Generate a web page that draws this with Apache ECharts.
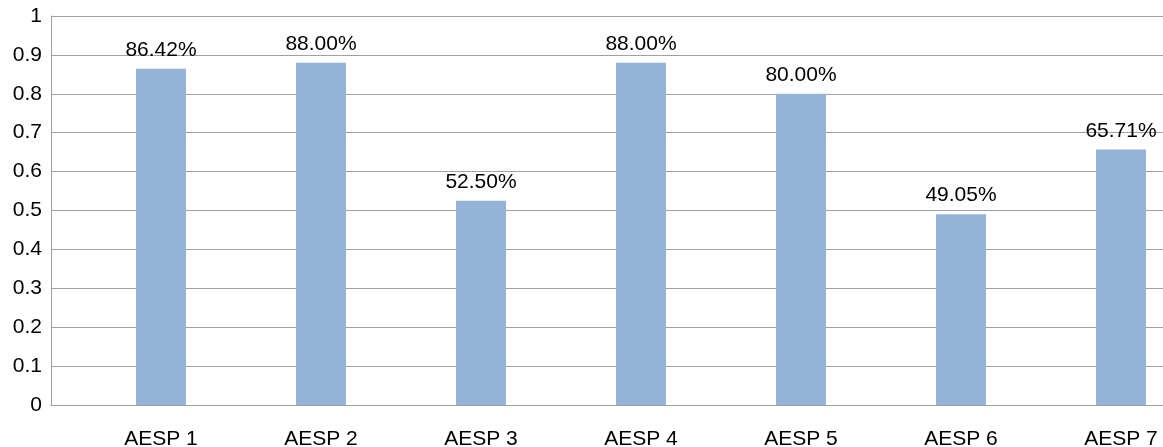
<!DOCTYPE html>
<html>
<head>
<meta charset="utf-8">
<script src="https://cdn.jsdelivr.net/npm/echarts@6/dist/echarts.min.js"></script>
<style>html,body{margin:0;padding:0;background:#fff;}#c{width:1163px;height:447px;}</style>
</head>
<body>
<div id="c"></div>
<script>
const categories = ['AESP 1','AESP 2','AESP 3','AESP 4','AESP 5','AESP 6','AESP 7'];
const values = [0.8642, 0.88, 0.525, 0.88, 0.80, 0.4905, 0.6571];
const yTicks = { min: 0, max: 1, interval: 0.1 };

const font = '"Liberation Sans", Arial, sans-serif';
const chart = echarts.init(document.getElementById('c'));
chart.setOption({
  animation: false,
  backgroundColor: '#fff',
  grid: [
    { left: 51, right: 0, top: 16, bottom: 42, containLabel: false, outerBoundsMode: 'none' },
    { left: 81, width: 1120, top: 16, bottom: 42, containLabel: false, outerBoundsMode: 'none' }
  ],
  xAxis: [
    { type: 'category', gridIndex: 0, data: categories,
      axisLine: { show: true, lineStyle: { color: '#a0a0a0', width: 1 } },
      axisTick: { show: false }, axisLabel: { show: false }, splitLine: { show: false } },
    { type: 'category', gridIndex: 1, data: categories,
      axisLine: { show: false }, axisTick: { show: false },
      axisLabel: { color: '#000', fontSize: 21, fontFamily: font, margin: 24, interval: 0 } }
  ],
  yAxis: [
    { type: 'value', gridIndex: 0, min: yTicks.min, max: yTicks.max, interval: yTicks.interval,
      axisLine: { show: true, lineStyle: { color: '#a0a0a0', width: 1 } },
      axisTick: { show: false },
      axisLabel: { color: '#000', fontSize: 21, fontFamily: font, margin: 9,
        formatter: v => String(Math.round(v * 10) / 10) },
      splitLine: { show: true, lineStyle: { color: '#a0a0a0', width: 1 } } },
    { type: 'value', gridIndex: 1, min: yTicks.min, max: yTicks.max, interval: yTicks.interval, show: false }
  ],
  series: [{
    type: 'bar', xAxisIndex: 1, yAxisIndex: 1, data: values, barWidth: 50,
    itemStyle: { color: '#95b3d7' },
    label: { show: true, position: 'top', distance: 8, color: '#000', fontSize: 21, fontFamily: font,
      formatter: p => (p.value * 100).toFixed(2) + '%' }
  }]
});
</script>
</body>
</html>
